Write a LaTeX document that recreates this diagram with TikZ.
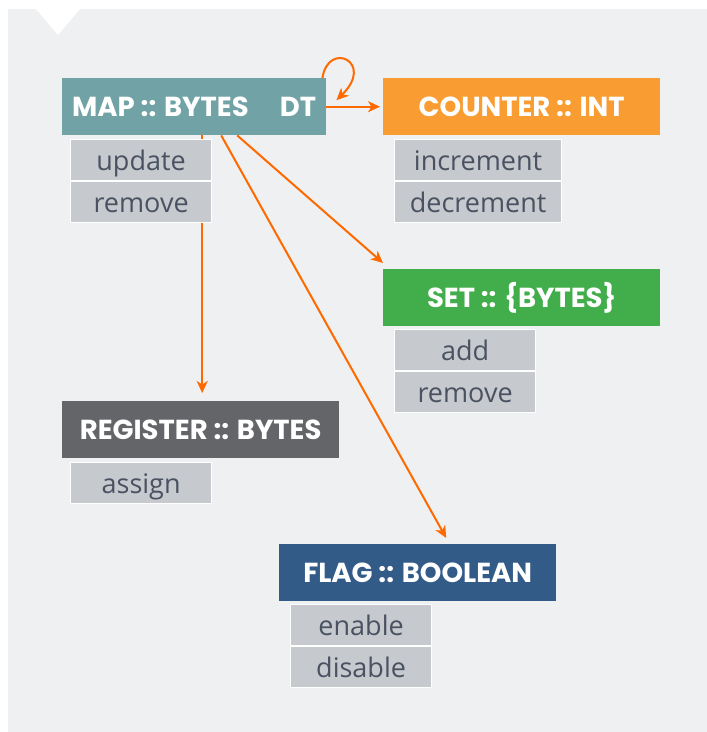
\documentclass[tikz,border=0pt]{standalone}
\usepackage{fontspec}
\setmainfont{Open Sans}
\newfontfamily\hdrfont{Poppins}
\usetikzlibrary{arrows.meta,calc}
\definecolor{panelc}{HTML}{EFF0F2}
\definecolor{mapc}{HTML}{70A2A6}
\definecolor{counterc}{HTML}{F99D33}
\definecolor{setc}{HTML}{42AD4B}
\definecolor{regc}{HTML}{636569}
\definecolor{flagc}{HTML}{335B88}
\definecolor{subc}{HTML}{C6C9CE}
\definecolor{subtext}{HTML}{4A5262}
\definecolor{arrc}{HTML}{FF6A00}
\tikzset{
  hdr/.style={anchor=north west, minimum height=57pt, inner sep=0pt, text=white,
    text height=19pt, text depth=0pt,
    font=\hdrfont\bfseries\fontsize{27.5}{27.5}\selectfont},
  sub/.style={anchor=north west, minimum height=41pt, inner sep=0pt, fill=subc,
    draw=white, line width=1.2pt, text=subtext, text height=23pt, text depth=3pt,
    font=\fontsize{27}{27}\selectfont},
  arr/.style={draw=arrc, line width=2pt, -{Stealth[length=12pt,width=11pt,inset=3.5pt]}}
}
\begin{document}
\begin{tikzpicture}[x=1pt,y=-1pt]
\useasboundingbox (0,0) rectangle (707,732);
\fill[panelc] (8,9) rectangle (707,732);
\fill[white] (36,9) -- (80,9) -- (58,35) -- cycle;

% headers
\node[hdr, fill=mapc, minimum width=264pt] (map) at (62,78) {\makebox[244pt][l]{MAP :: BYTES\hfill DT}};
\node[hdr, fill=counterc, minimum width=277pt] (counter) at (383,78) {COUNTER :: INT};
\node[hdr, fill=setc, minimum width=277pt] (set) at (383,269) {SET :: \{BYTES\}};
\node[hdr, fill=regc, minimum width=277pt] (register) at (62,401) {REGISTER :: BYTES};
\node[hdr, fill=flagc, minimum width=277pt] (flag) at (279,544) {FLAG :: BOOLEAN};

% connectors
\draw[arr, shorten >=3pt] (map.east) -- (counter.west);
\draw[arr] ([xshift=-4pt]map.north east) .. controls +(6,-38) and +(39,-38) .. ([xshift=10pt,yshift=6.5pt]map.east);
\draw[arr, shorten >=8pt] ([xshift=8pt]map.south) -- ([xshift=1.5pt]register.north);
\draw[arr] ([xshift=43pt]map.south) -- ([yshift=6pt]set.north west);
\draw[arr] ([xshift=27pt]map.south) -- ([xshift=28.5pt,yshift=6pt]flag.north);

% operation boxes
\node[sub, minimum width=141pt] (mupd) at (70,139) {update};
\node[sub, minimum width=141pt] (mrem) at (70,181) {remove};
\node[sub, minimum width=167pt] (cinc) at (394,139) {increment};
\node[sub, minimum width=167pt] (cdec) at (394,181) {decrement};
\node[sub, minimum width=141pt] (sadd) at (394,329) {add};
\node[sub, minimum width=141pt] (srem) at (394,371) {remove};
\node[sub, minimum width=141pt] (rasg) at (70,462) {assign};
\node[sub, minimum width=141pt] (fen) at (290,604) {enable};
\node[sub, minimum width=141pt] (fdis) at (290,646) {disable};
\end{tikzpicture}
\end{document}
